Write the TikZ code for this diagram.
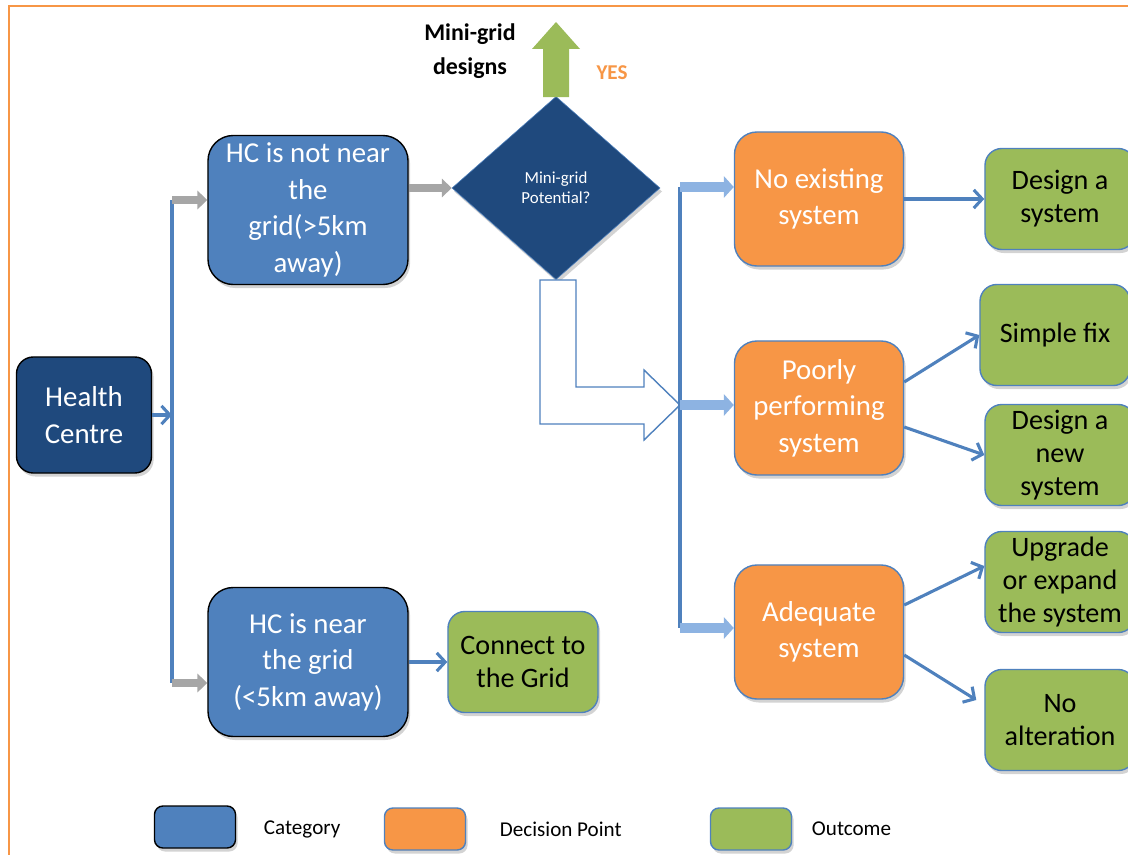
\documentclass[tikz,border=0pt]{standalone}
\usepackage{fontspec}
\setmainfont{Carlito}
\usepackage{xcolor}
\usepackage{tikz}
\usetikzlibrary{shapes.geometric,arrows.meta,shadows}

\definecolor{hcblue}{HTML}{1F497D}
\definecolor{catblue}{HTML}{4F81BD}
\definecolor{decorange}{HTML}{F79646}
\definecolor{outgreen}{HTML}{9BBB59}
\definecolor{flowblue}{HTML}{8DB3E2}
\definecolor{flowgray}{HTML}{A6A6A6}

\newcommand{\boxfont}{\fontsize{20.5}{26}\selectfont}
\newcommand{\outfont}{\fontsize{20}{23.4}\selectfont}
\newcommand{\keyfont}{\fontsize{15}{18}\selectfont}

\tikzset{
  boxshadow/.style={drop shadow={shadow xshift=1.5pt,shadow yshift=-2.5pt,opacity=0.35}},
  hcbox/.style={rectangle,rounded corners=12pt,draw=black,line width=1pt,fill=hcblue,
    text=white,align=center,font=\boxfont,minimum width=3.375cm,minimum height=2.9cm,boxshadow},
  catbox/.style={rectangle,rounded corners=18pt,draw=black,line width=1pt,fill=catblue,
    text=white,align=center,font=\boxfont,minimum width=5cm,minimum height=3.725cm,boxshadow},
  decbox/.style={rectangle,rounded corners=16pt,draw=catblue,line width=1pt,fill=decorange,
    text=white,align=center,font=\boxfont,minimum width=4.225cm,minimum height=3.35cm,boxshadow},
  outbox/.style={rectangle,rounded corners=12pt,draw=catblue,line width=1pt,fill=outgreen,
    text=black,align=center,font=\outfont,minimum width=3.75cm,minimum height=2.525cm,
    inner sep=1pt,boxshadow},
  keybox/.style={rectangle,rounded corners=6pt,line width=1pt,minimum width=2.025cm,
    minimum height=1.05cm,boxshadow},
  link/.style={draw=catblue,line width=2.2pt,-{Straight Barb[length=6pt,width=13pt]}},
  spine/.style={draw=catblue,line width=2.2pt},
  grayflow/.style={draw=flowgray,line width=6pt,-{Triangle[length=7pt,width=13pt]}},
  blueflow/.style={draw=flowblue,line width=7pt,-{Triangle[length=7pt,width=15pt]}},
}

\begin{document}
\begin{tikzpicture}[x=0.025cm,y=-0.025cm]
\useasboundingbox (0,0) rectangle (1128,854);
\clip (0,0) rectangle (1128,854);

% frame
\draw[decorange,line width=1.5pt] (9,860) -- (9,6) -- (1135,6);

% left part
\node[hcbox] (hc) at (84,415) {Health\\Centre};
\node[catbox] (notnear) at (308,210) {HC is not near\\the\\grid(>5km\\away)};
\node[catbox] (near) at (308,662) {HC is near\\the grid\\(<5km away)};
\node[outbox] (connect) at (523,662) {Connect to\\the Grid};

\coordinate (ltop) at (172,200);
\coordinate (lmid) at (172,415);
\coordinate (lbot) at (172,683);

\draw[spine] (ltop) -- (lbot);
\draw[link] (hc.east) -- (lmid);
\draw[grayflow] (ltop) -- (ltop -| notnear.west);
\draw[grayflow] (lbot) -- (lbot -| near.west);
\draw[link] (near.east) -- (connect.west);

% decision diamond
\node[diamond,draw=catblue,fill=hcblue,text=white,inner sep=0pt,align=center,
  minimum width=5.2cm,minimum height=4.575cm,font=\fontsize{12}{14}\selectfont,boxshadow]
  (dia) at (556,188) {Mini-grid\\Potential?};
\draw[grayflow] (notnear.east |- dia) -- (dia.west);

% yes branch
\fill[outgreen] (543,97) -- (569,97) -- (569,49) -- (580,49) -- (556,22) -- (532,49)
  -- (543,49) -- cycle;
\node[align=center,font=\bfseries\fontsize{17}{24}\selectfont] (designs) at (470,51)
  {Mini-grid\\designs};
\node[text=decorange,font=\bfseries\fontsize{15}{18}\selectfont] (yes) at (612,73) {YES};

% no branch
\draw[catblue,line width=1pt,fill=white] (540,280) -- (576,280) -- (576,387) -- (644,387)
  -- (644,370) -- (680,405) -- (644,440) -- (644,424) -- (540,424) -- cycle;

\coordinate (rtop) at (680,187);
\coordinate (rmid) at (680,405);
\coordinate (rbot) at (680,628);

\node[decbox] (noexist) at (819,199) {No existing\\system};
\node[decbox] (poor) at (819,408) {Poorly\\performing\\system};
\node[decbox] (adequate) at (819,632) {Adequate\\system};

\draw[spine] (rtop) -- (rbot);
\draw[blueflow] (rtop) -- (rtop -| noexist.west);
\draw[blueflow] (rmid) -- (rmid -| poor.west);
\draw[blueflow] (rbot) -- (rbot -| adequate.west);

% outcomes
\node[outbox] (designsys) at (1060,199) {Design a\\system};
\node[outbox] (simplefix) at (1055,335) {Simple fix};
\node[outbox] (designnew) at (1060,455) {Design a\\new\\system};
\node[outbox] (upgrade) at (1060,582) {Upgrade\\or expand\\the system};
\node[outbox] (noalter) at (1060,720) {No\\alteration};

\draw[link] (noexist.east) -- (designsys.west);
\draw[link] ([yshift=0.65cm]poor.east) -- (simplefix.west);
\draw[link] ([yshift=-0.475cm]poor.east) -- (designnew.west);
\draw[link] ([yshift=0.675cm]adequate.east) -- ([yshift=0.4cm]upgrade.west);
\draw[link] ([yshift=-0.575cm]adequate.east) -- ([xshift=-0.2cm,yshift=0.5cm]noalter.west);

% legend
\node[keybox,draw=black,fill=catblue] (keycat) at (195,827) {};
\node[anchor=west,font=\keyfont] (keycattext) at (259,829) {Category};
\node[keybox,draw=catblue,fill=decorange] (keydec) at (425,829) {};
\node[anchor=west,font=\keyfont] (keydectext) at (495,829) {Decision Point};
\node[keybox,draw=catblue,fill=outgreen] (keyout) at (751,829) {};
\node[anchor=west,font=\keyfont] (keyouttext) at (807,829) {Outcome};
\end{tikzpicture}
\end{document}
